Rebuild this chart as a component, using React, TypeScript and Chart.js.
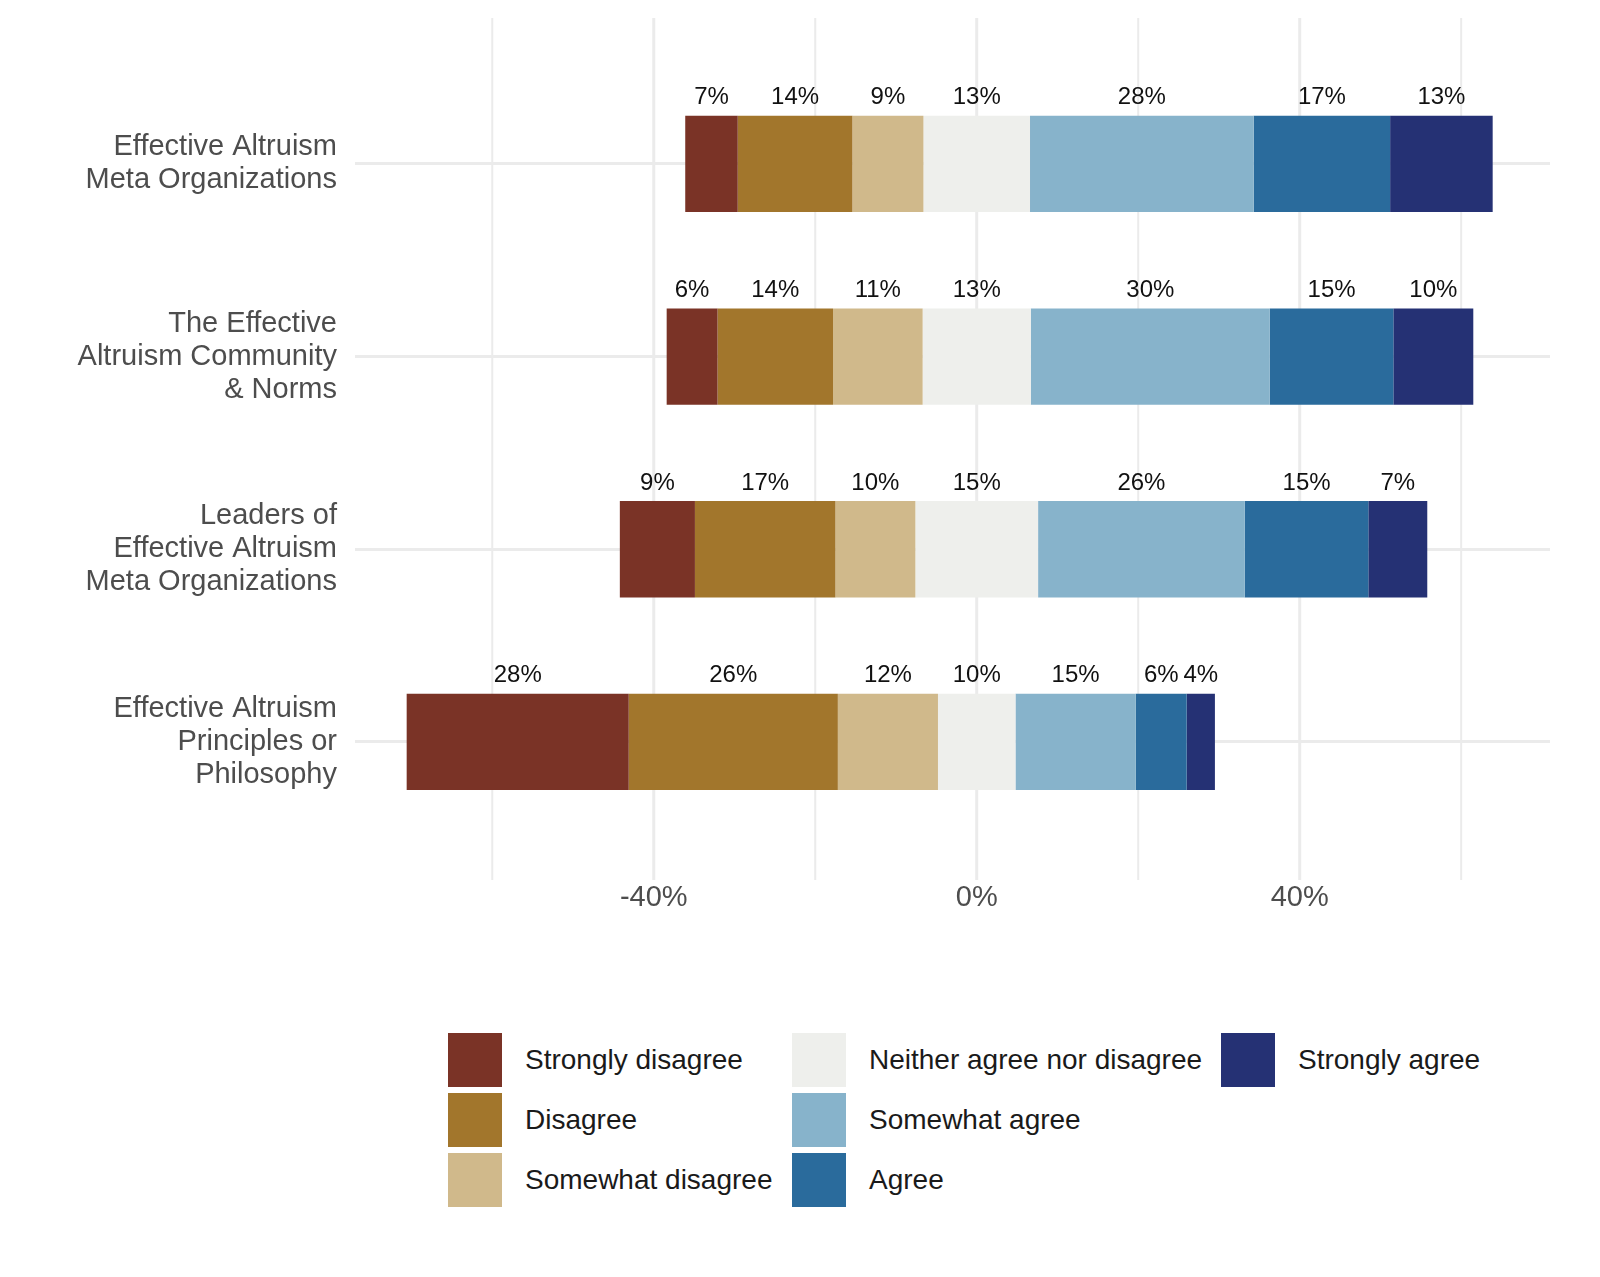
import React, { useEffect, useRef } from "react";
import { Chart, registerables } from "chart.js";
Chart.register(...registerables);

const categories = [
  ["Effective Altruism", "Meta Organizations"],
  ["The Effective", "Altruism Community", "& Norms"],
  ["Leaders of", "Effective Altruism", "Meta Organizations"],
  ["Effective Altruism", "Principles or", "Philosophy"],
];
const seriesNames = ["Strongly disagree", "Disagree", "Somewhat disagree", "Neither agree nor disagree", "Somewhat agree", "Agree", "Strongly agree"];
const colors = ["#7a3326", "#a2762c", "#d0b98b", "#eeefec", "#87b3cb", "#2a6b9c", "#253174"];
const stronglyDisagree = [6.5, 6.3, 9.3, 27.5];
const disagree = [14.2, 14.3, 17.4, 25.9];
const somewhatDisagree = [8.8, 11.1, 9.9, 12.4];
const neutral = [13.2, 13.4, 15.2, 9.6];
const somewhatAgree = [27.7, 29.6, 25.6, 14.9];
const agree = [16.9, 15.3, 15.3, 6.3];
const stronglyAgree = [12.7, 9.9, 7.3, 3.5];
const labels = [
  ["7%", "6%", "9%", "28%"],
  ["14%", "14%", "17%", "26%"],
  ["9%", "11%", "10%", "12%"],
  ["13%", "13%", "15%", "10%"],
  ["28%", "30%", "26%", "15%"],
  ["17%", "15%", "15%", "6%"],
  ["13%", "10%", "7%", "4%"],
];
const gridValues = [-60, -40, -20, 0, 20, 40, 60];
const FONT = "'Liberation Sans', Arial, sans-serif";

export default function App() {
  const ref = useRef<HTMLCanvasElement>(null);
  useEffect(() => {
    document.body.style.margin = "0";
    const series = [stronglyDisagree, disagree, somewhatDisagree, neutral, somewhatAgree, agree, stronglyAgree];
    const ranges: number[][][] = series.map(() => []);
    for (let i = 0; i < categories.length; i++) {
      let pos = -neutral[i] / 2;
      for (let s = 2; s >= 0; s--) { ranges[s][i] = [pos - series[s][i], pos]; pos -= series[s][i]; }
      ranges[3][i] = [-neutral[i] / 2, neutral[i] / 2];
      pos = neutral[i] / 2;
      for (let s = 4; s < 7; s++) { ranges[s][i] = [pos, pos + series[s][i]]; pos += series[s][i]; }
    }
    const gridPlugin = {
      id: "vgrid",
      beforeDatasetsDraw(chart: any) {
        const ctx = chart.ctx;
        const xs = chart.scales.x;
        ctx.save();
        ctx.strokeStyle = "#ebebeb";
        gridValues.forEach((v) => {
          const x = xs.getPixelForValue(v);
          ctx.lineWidth = v % 40 === 0 ? 3 : 2;
          ctx.beginPath();
          ctx.moveTo(x, 18);
          ctx.lineTo(x, 880);
          ctx.stroke();
        });
        ctx.restore();
      },
    };
    const labelPlugin = {
      id: "lbl",
      afterDatasetsDraw(chart: any) {
        const ctx = chart.ctx;
        ctx.save();
        ctx.font = "24px " + FONT;
        ctx.fillStyle = "#111";
        ctx.textAlign = "center";
        ctx.textBaseline = "bottom";
        chart.data.datasets.forEach((_: any, di: number) => {
          chart.getDatasetMeta(di).data.forEach((el: any, i: number) => {
            const x = (el.x + el.base) / 2;
            ctx.fillText(labels[di][i], x, el.y - el.height / 2 - 6);
          });
        });
        ctx.restore();
      },
    };
    const chart = new Chart(ref.current!, {
      type: "bar",
      data: {
        labels: categories as any,
        datasets: seriesNames.map((n, s) => ({
          label: n,
          data: ranges[s] as any,
          backgroundColor: colors[s],
          barPercentage: 0.5,
          categoryPercentage: 1,
          borderWidth: 0,
        })),
      },
      options: {
        indexAxis: "y",
        animation: false,
        responsive: false,
        layout: { padding: { top: 11, right: 50, bottom: 11, left: 0 } },
        plugins: { legend: { display: false }, tooltip: { enabled: false } },
        scales: {
          y: {
            stacked: true,
            grid: { offset: false, color: "#ebebeb", lineWidth: 3, drawTicks: false },
            border: { display: false },
            afterFit: (s: any) => { s.width = 355; },
            ticks: { padding: 18, color: "#4d4d4d", font: { size: 29, family: FONT, lineHeight: 1.14 } },
          },
          x: {
            min: -77, max: 71,
            grid: { display: false },
            border: { display: false },
            ticks: {
              stepSize: 20,
              padding: 34,
              color: "#4d4d4d",
              font: { size: 29, family: FONT },
              callback: (v: any) => (v % 40 === 0 ? v + "%" : ""),
            },
          },
        },
      },
      plugins: [gridPlugin, labelPlugin],
    });
    return () => chart.destroy();
  }, []);
  const legendCols = [[0, 1, 2], [3, 4, 5], [6]];
  const colX = [448, 792, 1221];
  return (
    <div style={{ position: "relative", width: 1600, height: 1277, background: "#fff", fontFamily: FONT }}>
      <canvas ref={ref} width={1600} height={960} style={{ position: "absolute", left: 0, top: 0 }} />
      {legendCols.map((col, ci) =>
        col.map((s, ri) => (
          <div key={s} style={{ position: "absolute", left: colX[ci], top: 1033 + ri * 60, display: "flex", alignItems: "center" }}>
            <div style={{ width: 54, height: 54, background: colors[s] }} />
            <span style={{ marginLeft: 23, fontSize: 28, color: "#1a1a1a" }}>{seriesNames[s]}</span>
          </div>
        ))
      )}
    </div>
  );
}
